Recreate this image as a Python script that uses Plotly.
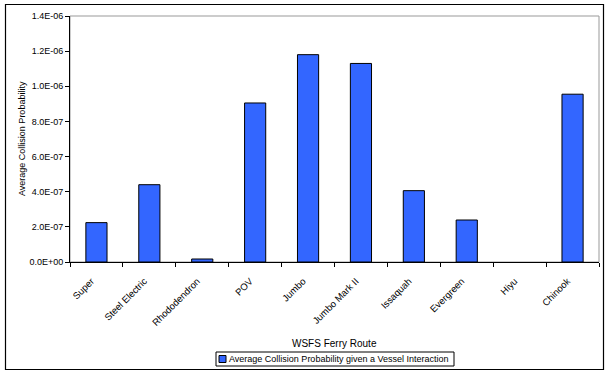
import plotly.graph_objects as go

routes = ["Super", "Steel Electric", "Rhododendron", "POV", "Jumbo",
          "Jumbo Mark II", "Issaquah", "Evergreen", "Hiyu", "Chinook"]
collision_prob = [2.24e-07, 4.40e-07, 1.7e-08, 9.05e-07, 1.18e-06,
                  1.13e-06, 4.06e-07, 2.39e-07, 0.0, 9.55e-07]
y_ticks = [0, 2e-07, 4e-07, 6e-07, 8e-07, 1e-06, 1.2e-06, 1.4e-06]
y_tick_text = ["0.0E+00", "2.0E-07", "4.0E-07", "6.0E-07", "8.0E-07",
               "1.0E-06", "1.2E-06", "1.4E-06"]
series_name = "Average Collision Probability given a Vessel Interaction"

W, H = 608, 373
L, R, T, B = 70, 9, 16, 111
pw, ph = W - L - R, H - T - B
BAR_COLOR = "#3366FF"

def px(x):
    return (x - L) / pw

def py(y):
    return (H - B - y) / ph

font = "Liberation Sans, Arial, sans-serif"

# empty bars get no outline
outline_w = [1 if v > 0 else 0 for v in collision_prob]

fig = go.Figure(go.Bar(
    x=routes, y=collision_prob, name=series_name, showlegend=False,
    marker=dict(color=BAR_COLOR, line=dict(color="black", width=outline_w)),
))

# legend box drawn below the axis title
leg_x0, leg_x1, leg_y0, leg_y1 = 216, 454, 352, 366

fig.update_layout(
    width=W, height=H,
    margin=dict(l=L, r=R, t=T, b=B, autoexpand=False),
    paper_bgcolor="white", plot_bgcolor="white",
    bargap=0.6,
    font=dict(family=font, size=9, color="black"),
    showlegend=False,
    shapes=[
        dict(type="rect", xref="paper", yref="paper", x0=0, y0=0, x1=1, y1=1,
             line=dict(color="#999999", width=1), layer="below"),
        dict(type="rect", xref="paper", yref="paper",
             x0=px(5.5), x1=px(603.5), y0=py(369.5), y1=py(4.5),
             line=dict(color="black", width=1.2)),
        dict(type="rect", xref="paper", yref="paper",
             x0=px(leg_x0), x1=px(leg_x1), y0=py(leg_y1), y1=py(leg_y0),
             line=dict(color="black", width=1), fillcolor="white"),
        dict(type="rect", xref="paper", yref="paper",
             x0=px(219), x1=px(226), y0=py(362.5), y1=py(355.5),
             line=dict(color="black", width=1), fillcolor=BAR_COLOR),
    ],
    annotations=[
        dict(text="WSFS Ferry Route", xref="paper", yref="paper",
             x=0.5, y=py(343), xanchor="center", yanchor="middle",
             showarrow=False, font=dict(size=10)),
        dict(text="Average Collision Probability", xref="paper", yref="paper",
             x=px(22), y=0.5, xanchor="center", yanchor="middle", textangle=-90,
             showarrow=False, font=dict(size=9)),
        dict(text=series_name, xref="paper", yref="paper",
             x=px(227), y=py(359), xanchor="left", yanchor="middle",
             showarrow=False, font=dict(size=9)),
    ],
)

fig.update_xaxes(
    showline=True, linecolor="black", linewidth=1, automargin=False,
    ticks="outside", ticklen=4, tickcolor="black", tickson="boundaries",
    tickangle=-45, tickfont=dict(size=9.5), showgrid=False,
    ticklabelstandoff=9, ticklabelshift=-5,
)
fig.update_yaxes(
    range=[0, 1.4e-06], tickvals=y_ticks, ticktext=y_tick_text,
    showline=True, linecolor="black", linewidth=1, automargin=False,
    ticks="outside", ticklen=4, tickcolor="black",
    tickfont=dict(size=9), showgrid=False, zeroline=False,
)

fig.write_html("out.html")
